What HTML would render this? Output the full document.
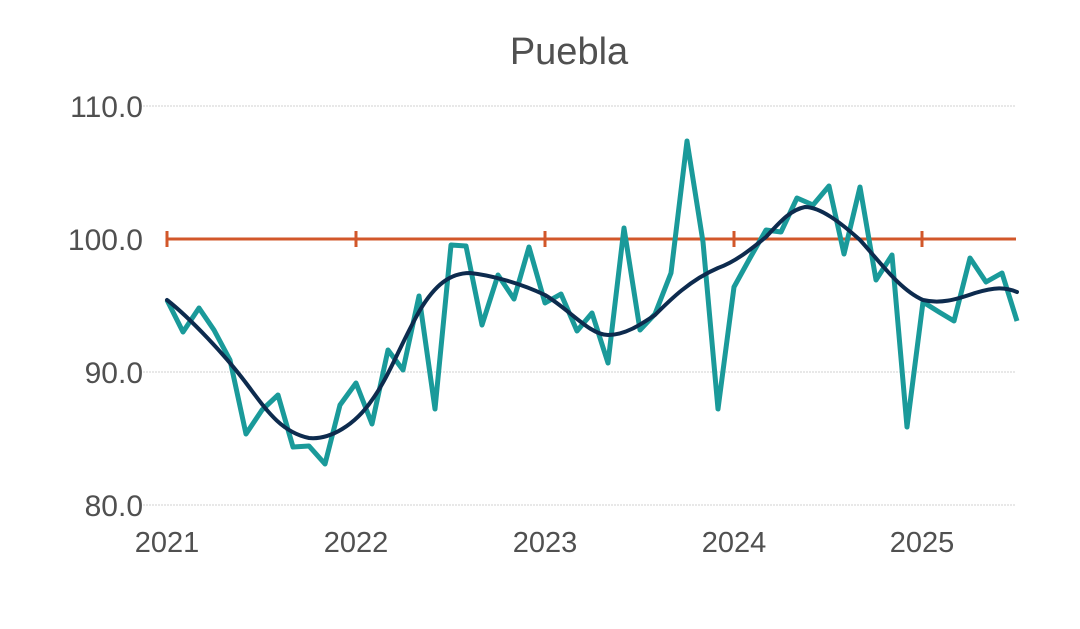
<!DOCTYPE html>
<html><head><style>body{margin:0;background:#fff}</style></head><body>
<svg width="1080" height="624" xmlns="http://www.w3.org/2000/svg" font-family="Liberation Sans, sans-serif">
<rect width="1080" height="624" fill="#fff"/>
<text x="569" y="64" font-size="38" fill="#505050" text-anchor="middle">Puebla</text>
<g stroke="#d0d0d0" stroke-width="1" stroke-dasharray="2,1">
<line x1="140" y1="106" x2="1016" y2="106"/>
<line x1="140" y1="372" x2="1016" y2="372"/>
<line x1="140" y1="505" x2="1016" y2="505"/>
</g>
<g font-size="30" fill="#505050" text-anchor="end">
<text x="143" y="117">110.0</text>
<text x="143" y="250">100.0</text>
<text x="143" y="383">90.0</text>
<text x="143" y="516">80.0</text>
</g>
<g font-size="29" fill="#505050" text-anchor="middle">
<text x="167" y="552">2021</text>
<text x="356" y="552">2022</text>
<text x="545" y="552">2023</text>
<text x="734" y="552">2024</text>
<text x="922" y="552">2025</text>
</g>
<g stroke="#d2572a" stroke-width="3">
<line x1="167" y1="239" x2="1016" y2="239"/>
<line x1="167" y1="231" x2="167" y2="247"/>
<line x1="356" y1="231" x2="356" y2="247"/>
<line x1="545" y1="231" x2="545" y2="247"/>
<line x1="734" y1="231" x2="734" y2="247"/>
<line x1="922" y1="231" x2="922" y2="247"/>
</g>
<polyline fill="none" stroke="#1a9a9a" stroke-width="5" stroke-linejoin="round" points="167,300 183,332 199,308 214,330 230,360 246,434 262,410 278,395 293,447 309,446 325,464 340,405 356,383 372,424 388,350 403,370 419,296 435,409 451,245 466,246 482,325 498,275 514,299 529,247 545,303 561,294 577,331 592,313 608,363 624,228 640,330 655,314 671,273 687,141 703,242 718,409 734,287 750,258 766,230 781,232 797,198 813,205 829,186 844,254 860,187 876,280 892,255 907,427 923,302 939,312 954,321 970,258 986,282 1002,273 1017,321"/>
<path fill="none" stroke="#0d2b4e" stroke-width="4" stroke-linecap="round" d="M167,300 C190,318 225,355 246,383 C265,408 280,432 309,438 C330,440 355,425 372,400 C390,375 400,345 420,310 C435,285 450,273 470,273 C490,275 520,283 545,295 C570,310 590,335 608,335 C625,335 640,325 655,315 C670,300 690,280 718,268 C735,262 750,250 766,237 C780,222 790,210 805,207 C820,207 840,222 860,240 C880,262 900,290 923,300 C940,304 955,300 975,293 C995,287 1005,287 1017,292"/>
</svg>
</body></html>
